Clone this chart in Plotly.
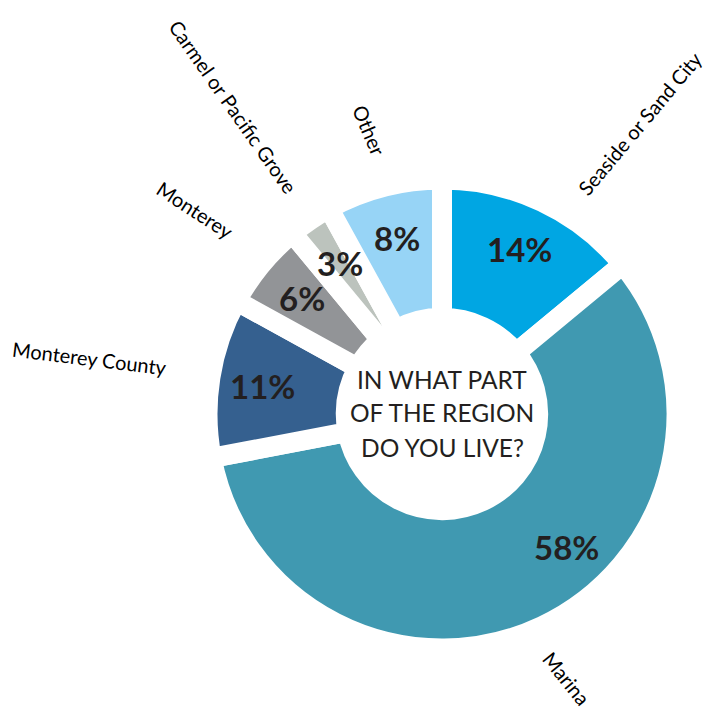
import math
import plotly.graph_objects as go

# Survey answers: share of respondents by area of residence
regions = ["Seaside or Sand City", "Marina", "Monterey County",
           "Monterey", "Carmel or Pacific Grove", "Other"]
shares = [14, 58, 11, 6, 3, 8]
colors = ["#00A6E3", "#4099B1", "#35608F", "#929497", "#BCC3BD", "#97D4F6"]
question_lines = ["IN WHAT PART", "OF THE REGION", "DO YOU LIVE?"]

# Page and ring geometry (pixels)
W, H = 713, 711
CX, CY = 442, 414          # ring centre
R_PATH = 234.5             # pie radius before the white separators
GAP = 20                   # white separator width
HOLE = 0.41

# Label placement styling
PCT_RADIUS = 182
PCT_SHIFT = {"Marina": -18}                 # degrees, moves a value label along the ring
NAME_RADIUS = {"Seaside or Sand City": 352, "Marina": 292, "Monterey County": 357,
               "Monterey": 320, "Carmel or Pacific Grove": 371, "Other": 293}
NAME_SHIFT = {"Seaside or Sand City": 9.0}
NAME_TILT = {"Seaside or Sand City": -50, "Marina": 51, "Monterey County": 7,
             "Monterey": 33, "Carmel or Pacific Grove": 55, "Other": 67}
LINE_STEP = 34             # spacing of the centre caption lines

TEXT = "#231F20"
FONT = "Lato"


def to_paper(theta_deg, r):
    """Polar position (clockwise from 12 o'clock) around the ring centre -> paper coords."""
    t = math.radians(theta_deg)
    px = CX + r * math.sin(t)
    py = CY - r * math.cos(t)
    return px / W, (H - py) / H


total = sum(shares)
mid_angles = []
acc = 0
for v in shares:
    mid_angles.append((acc + v / 2) / total * 360)
    acc += v

fig = go.Figure(go.Pie(
    labels=regions,
    values=shares,
    sort=False,
    direction="clockwise",
    rotation=0,
    hole=HOLE,
    textinfo="none",
    hoverinfo="label+percent",
    marker=dict(colors=colors, line=dict(color="white", width=GAP)),
    domain=dict(x=[(CX - R_PATH) / W, (CX + R_PATH) / W],
                y=[(H - CY - R_PATH) / H, (H - CY + R_PATH) / H]),
    showlegend=False,
))

annotations = []
for name, v, mid in zip(regions, shares, mid_angles):
    x, y = to_paper(mid + PCT_SHIFT.get(name, 0), PCT_RADIUS)
    annotations.append(dict(
        x=x, y=y, xref="paper", yref="paper", xanchor="center", yanchor="middle",
        text=f"<b>{v}%</b>", showarrow=False,
        font=dict(family=FONT, size=33, color=TEXT)))
    x, y = to_paper(mid + NAME_SHIFT.get(name, 0), NAME_RADIUS[name])
    annotations.append(dict(
        x=x, y=y, xref="paper", yref="paper", xanchor="center", yanchor="middle",
        text=name, showarrow=False, textangle=NAME_TILT[name],
        font=dict(family=FONT, size=20, color="#000000")))

# Centre caption, one annotation per line for even spacing
n = len(question_lines)
for i, line in enumerate(question_lines):
    offset = (i - (n - 1) / 2) * LINE_STEP
    cx, cy = CX / W, (H - (CY - 1 + offset)) / H
    annotations.append(dict(
        x=cx, y=cy, xref="paper", yref="paper", xanchor="center", yanchor="middle",
        text=line, showarrow=False,
        font=dict(family=FONT, size=24.5, color=TEXT)))

fig.update_layout(
    width=W, height=H,
    margin=dict(l=0, r=0, t=0, b=0),
    paper_bgcolor="white",
    plot_bgcolor="white",
    annotations=annotations,
)

fig.write_html("out.html")
